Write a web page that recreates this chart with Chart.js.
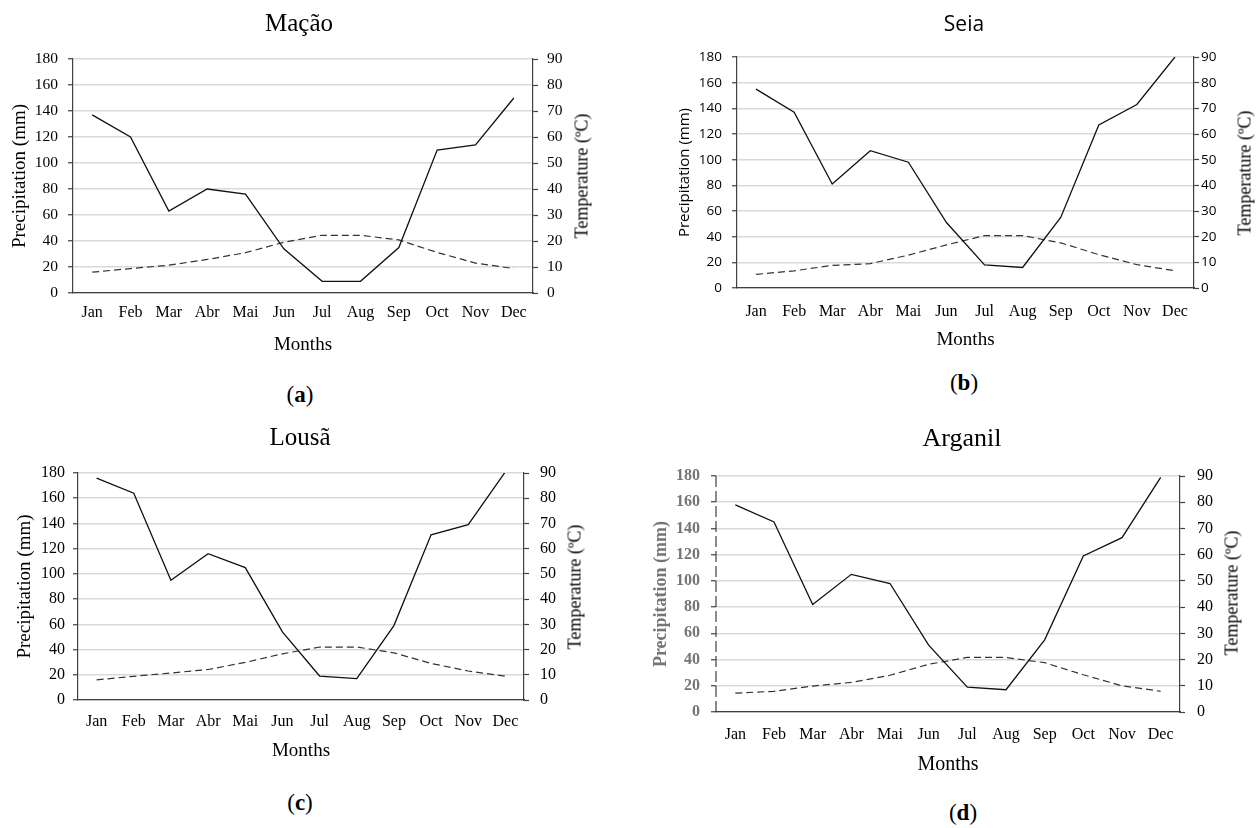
<!DOCTYPE html>
<html>
<head>
<meta charset="utf-8">
<script src="https://cdn.jsdelivr.net/npm/chart.js@4"></script>
<style>
  body { margin: 0; background: #fff; width: 1259px; height: 828px; position: relative; overflow: hidden; }
  canvas { position: absolute; }
  .lbl { position: absolute; transform: translate(-50%, -50%); white-space: nowrap; color: #000; }
  .rot { transform: translate(-50%, -50%) rotate(-90deg); }
</style>
</head>
<body>
<script>
const months = ['Jan', 'Feb', 'Mar', 'Abr', 'Mai', 'Jun', 'Jul', 'Aug', 'Sep', 'Oct', 'Nov', 'Dec'];

// precipitation (mm) and temperature (ºC)
const macaoPrecip = [137, 120, 63, 80, 76, 34, 9, 9, 35, 110, 114, 150];
const macaoTemp = [8, 9.4, 10.7, 12.9, 15.5, 19.5, 22.2, 22.2, 20.4, 15.6, 11.5, 9.4];
const seiaPrecip = [155, 137, 81, 107, 98, 51, 18, 16, 55, 127, 143, 180];
const seiaTemp = [5.3, 6.7, 8.8, 9.5, 12.8, 16.8, 20.4, 20.4, 17.6, 13, 9.1, 6.7];
const lousaPrecip = [176, 164, 95, 116, 105, 54, 19, 17, 59, 131, 139, 181];
const lousaTemp = [8, 9.4, 10.7, 12.1, 14.9, 18.3, 21, 21, 18.7, 14.5, 11.5, 9.4];
const arganilPrecip = [158, 145, 82, 105, 98, 51, 19, 17, 55, 119, 133, 179];
const arganilTemp = [7.2, 7.9, 9.9, 11.3, 14, 18.2, 20.8, 20.8, 18.8, 14.2, 10, 7.9];

const precipTicks = [0, 20, 40, 60, 80, 100, 120, 140, 160, 180];
const tempTicks = [0, 10, 20, 30, 40, 50, 60, 70, 80, 90];

const SERIF = '"Liberation Serif", "DejaVu Serif", serif';
const SANS = '"Open Sans", "Liberation Sans", sans-serif';
const AXIS = '#404040';

// draws the left axis line dashed (only used for Arganil)
const dashedAxis = {
    id: 'dashedAxis',
    afterDraw(chart, args, opts) {
        if (!opts.dash) return;
        const s = chart.scales.y;
        const ctx = chart.ctx;
        ctx.save();
        ctx.strokeStyle = AXIS;
        ctx.lineWidth = 1.2;
        ctx.setLineDash(opts.dash);
        ctx.beginPath();
        ctx.moveTo(s.right, s.top);
        ctx.lineTo(s.right, s.bottom);
        ctx.stroke();
        ctx.restore();
    }
};

function label(text, x, y, size, family, rot) {
    const d = document.createElement('div');
    d.className = 'lbl' + (rot ? ' rot' : '');
    d.style.left = x + 'px';
    d.style.top = y + 'px';
    d.style.font = size + 'px ' + family;
    d.innerHTML = text;
    document.body.appendChild(d);
}

function panel(p) {
    const c = document.createElement('canvas');
    c.width = p.w; c.height = p.h;
    c.style.left = p.x + 'px'; c.style.top = p.y + 'px';
    document.body.appendChild(c);

    new Chart(c.getContext('2d'), {
        type: 'line',
        data: {
            labels: months,
            datasets: [
                { data: p.precip, yAxisID: 'y', borderColor: '#111', borderWidth: 1.3, pointRadius: 0, tension: 0, fill: false },
                { data: p.temp, yAxisID: 'y1', borderColor: '#333', borderWidth: 1.2, borderDash: [7, 4], pointRadius: 0, tension: 0, fill: false }
            ]
        },
        plugins: [dashedAxis],
        options: {
            responsive: false,
            animation: false,
            layout: { padding: { top: p.T, left: 0, right: 0, bottom: 0 } },
            plugins: { legend: { display: false }, tooltip: { enabled: false }, dashedAxis: { dash: p.dashAxis } },
            scales: {
                x: {
                    offset: true,
                    grid: { display: false, drawTicks: false },
                    border: { display: true, color: AXIS, width: 1.2 },
                    ticks: { color: '#000', font: { family: SERIF, size: p.xSize }, padding: p.xPad, maxRotation: 0, autoSkip: false },
                    title: { display: true, text: 'Months', color: '#000', font: { family: SERIF, size: p.mSize }, padding: { top: 0, bottom: p.mPad } },
                    afterFit: s => { s.height = p.B; }
                },
                y: {
                    position: 'left',
                    min: 0, max: 180,
                    afterBuildTicks: s => { s.ticks = precipTicks.map(v => ({ value: v })); },
                    grid: { color: '#d9d9d9', lineWidth: 1.5, tickLength: 5, tickColor: AXIS, tickWidth: 1.2 },
                    border: { display: !p.dashAxis, color: AXIS, width: 1.2 },
                    ticks: { color: p.lColor || '#000', font: { family: p.lFamily, size: p.lSize, weight: p.lWeight || 'normal' }, padding: p.lPad },
                    title: { display: true, text: 'Precipitation (mm)', color: p.lColor || '#000', font: { family: p.ptFamily, size: p.ptSize, weight: p.lWeight || 'normal' }, padding: { top: p.ptPad, bottom: 0 } },
                    afterFit: s => { s.width = p.L; }
                },
                y1: {
                    position: 'right',
                    min: 0, max: 90,
                    afterBuildTicks: s => { s.ticks = tempTicks.map(v => ({ value: v })); },
                    grid: { drawOnChartArea: false, tickLength: 5, tickColor: AXIS, tickWidth: 1.2 },
                    border: { color: AXIS, width: 1.2 },
                    ticks: { color: '#000', font: { family: p.rFamily, size: p.lSize }, padding: p.rPad },
                    afterFit: s => { s.width = p.R; }
                }
            }
        }
    });

    label(p.name, p.tx, p.ty, p.tSize, p.tFamily);
    label('Temperature (ºC)', p.rtx, p.rty, p.rtSize, SERIF, true);
    label('(<b>' + p.cap + '</b>)', p.cx, p.cy, 23, SERIF);
}

panel({ name: 'Mação', cap: 'a', precip: macaoPrecip, temp: macaoTemp,
    x: 0, y: 0, w: 615, h: 360, L: 73, R: 82, T: 59, B: 67,
    xSize: 16, xPad: 10, mSize: 19, mPad: 4,
    lFamily: SERIF, rFamily: SERIF, lSize: 15.5, lPad: 10, rPad: 9,
    ptFamily: SERIF, ptSize: 19, ptPad: 9,
    tx: 299, ty: 23, tSize: 25, tFamily: SERIF,
    rtx: 582, rty: 176, rtSize: 18, cx: 300, cy: 395 });

panel({ name: 'Seia', cap: 'b', precip: seiaPrecip, temp: seiaTemp,
    x: 630, y: 0, w: 629, h: 360, L: 107, R: 65, T: 57, B: 72,
    xSize: 16, xPad: 14, mSize: 19, mPad: 9,
    lFamily: SANS, rFamily: SANS, lSize: 13.5, lPad: 10, rPad: 2,
    ptFamily: SANS, ptSize: 15, ptPad: 46,
    tx: 964, ty: 23, tSize: 21, tFamily: SANS,
    rtx: 1245, rty: 173, rtSize: 18, cx: 964, cy: 383 });

panel({ name: 'Lousã', cap: 'c', precip: lousaPrecip, temp: lousaTemp,
    x: 0, y: 410, w: 615, h: 370, L: 78, R: 91, T: 63, B: 80,
    xSize: 16, xPad: 12, mSize: 19, mPad: 18,
    lFamily: SERIF, rFamily: SERIF, lSize: 16, lPad: 8, rPad: 11,
    ptFamily: SERIF, ptSize: 19, ptPad: 14,
    tx: 300, ty: 437, tSize: 25, tFamily: SERIF,
    rtx: 575, rty: 587, rtSize: 18, cx: 300, cy: 803 });

panel({ name: 'Arganil', cap: 'd', precip: arganilPrecip, temp: arganilTemp,
    x: 630, y: 410, w: 629, h: 380, L: 86, R: 79, T: 66, B: 78,
    xSize: 16, xPad: 13, mSize: 20, mPad: 13,
    lFamily: SERIF, rFamily: SERIF, lSize: 16, lPad: 11, rPad: 12, lWeight: 'bold', lColor: '#757575',
    ptFamily: SERIF, ptSize: 18, ptPad: 21, dashAxis: [11, 4],
    tx: 962, ty: 438, tSize: 26, tFamily: SERIF,
    rtx: 1232, rty: 593, rtSize: 18, cx: 963, cy: 813 });
</script>
</body>
</html>
